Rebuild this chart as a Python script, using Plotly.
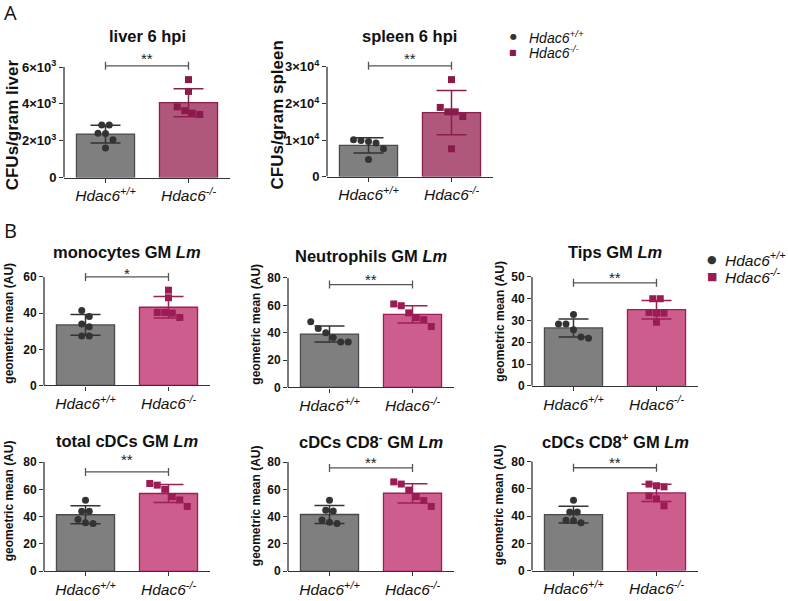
import numpy as np
import plotly.graph_objects as go

# group labels
groups = ["<i>Hdac6<sup>+/+</sup></i>", "<i>Hdac6<sup>-/-</sup></i>"]

# panel A: CFUs per gram
liver_wt = [2860, 2850, 2410, 2400, 2050, 1610]
liver_ko = [5320, 4680, 3840, 3630, 3430, 3500]
spleen_wt = [10100, 9900, 9600, 9200, 7600, 4700]
spleen_ko = [26500, 18900, 17700, 17700, 16400, 7600]

# panel B: geometric mean (AU)
mono_wt = [41.5, 38.2, 34.0, 32.5, 27.3, 27.3]
mono_ko = [52.7, 48.5, 40.4, 40.0, 40.4, 37.6]
neut_wt = [48.0, 43.0, 40.0, 36.5, 33.3, 33.3]
neut_ko = [61.0, 59.7, 54.5, 51.0, 49.5, 44.5]
tips_wt = [32.8, 28.4, 28.4, 25.7, 21.9, 22.4]
tips_ko = [40.0, 40.0, 33.4, 33.4, 33.7, 29.2]
cdc_wt = [52.0, 44.0, 44.0, 38.0, 35.5, 35.0]
cdc_ko = [64.3, 63.1, 60.0, 54.7, 52.3, 47.5]
cd8neg_wt = [52.0, 44.8, 44.2, 37.5, 36.0, 35.0]
cd8neg_ko = [63.9, 65.5, 59.5, 54.7, 51.8, 47.5]
cd8pos_wt = [51.5, 43.0, 43.0, 37.0, 35.0, 36.5]
cd8pos_ko = [63.4, 62.2, 61.4, 54.7, 52.5, 47.5]

# y ticks
liver_ticks = [0, 2000, 4000, 6000]
liver_ticktext = ["0", "2×10<sup>3</sup>", "4×10<sup>3</sup>", "6×10<sup>3</sup>"]
spleen_ticks = [0, 10000, 20000, 30000]
spleen_ticktext = ["0", "1×10<sup>4</sup>", "2×10<sup>4</sup>", "3×10<sup>4</sup>"]
ticks_60 = [0, 20, 40, 60]
ticks_80 = [0, 20, 40, 60, 80]
ticks_50 = [0, 10, 20, 30, 40, 50]

W, H = 788, 601
PW = 166
FONT = "Liberation Sans, Arial, sans-serif"

col_a = dict(wt_fill="#7f7f7f", wt_line="#4a4a4a", wt_pt="#333333",
             ko_fill="#b0587c", ko_line="#8a1f4e", ko_pt="#8b1a4c")
col_b = dict(wt_fill="#7f7f7f", wt_line="#4a4a4a", wt_pt="#333333",
             ko_fill="#cc5d8d", ko_line="#9c1f55", ko_pt="#9b1b55")

# layout of each panel (pixels)
panels = [
    dict(wt=liver_wt, ko=liver_ko, ticks=liver_ticks, ticktext=liver_ticktext,
         x0=64, zero=180, toppx=68, brk=6070, star=6700, sig="**",
         title="liver 6 hpi", ty=36, yt="CFUs/gram liver", ytx=12, yty=127,
         ytsize=17, tsize=13, col=col_a),
    dict(wt=spleen_wt, ko=spleen_ko, ticks=spleen_ticks, ticktext=spleen_ticktext,
         x0=327, zero=179, toppx=67.7, brk=30270, star=33400, sig="**",
         title="spleen 6 hpi", ty=36, yt="CFUs/gram spleen", ytx=277, yty=117,
         ytsize=17, tsize=13, col=col_a),
    dict(wt=mono_wt, ko=mono_ko, ticks=ticks_60, x0=44, zero=390.7, toppx=280.7,
         brk=60, star=64.2, sig="*", title="monocytes GM <i>Lm</i>", ty=255,
         yt="geometric mean (AU)", ytx=9, yty=328, ytsize=12, tsize=12, col=col_b),
    dict(wt=neut_wt, ko=neut_ko, ticks=ticks_80, x0=288, zero=392.7, toppx=281.7,
         brk=75.2, star=82, sig="**", title="Neutrophils GM <i>Lm</i>", ty=259,
         yt="geometric mean (AU)", ytx=256, yty=328, ytsize=12, tsize=12, col=col_b),
    dict(wt=tips_wt, ko=tips_ko, ticks=ticks_50, x0=532, zero=391, toppx=280.7,
         brk=47.3, star=51.7, sig="**", title="Tips GM <i>Lm</i>", ty=255,
         yt="geometric mean (AU)", ytx=500, yty=326, ytsize=12, tsize=12, col=col_b),
    dict(wt=cdc_wt, ko=cdc_ko, ticks=ticks_80, x0=44, zero=579, toppx=468.3,
         brk=72.8, star=84.5, sig="**", title="total cDCs GM <i>Lm</i>", ty=447,
         yt="geometric mean (AU)", ytx=9, yty=508, ytsize=12, tsize=12, col=col_b),
    dict(wt=cd8neg_wt, ko=cd8neg_ko, ticks=ticks_80, x0=288, zero=579, toppx=468.3,
         brk=75.7, star=82.4, sig="**", title="cDCs CD8<sup>-</sup> GM <i>Lm</i>", ty=447,
         yt="geometric mean (AU)", ytx=256, yty=512, ytsize=12, tsize=12, col=col_b),
    dict(wt=cd8pos_wt, ko=cd8pos_ko, ticks=ticks_80, x0=532, zero=578.3, toppx=467.7,
         brk=75.4, star=81.9, sig="**", title="cDCs CD8<sup>+</sup> GM <i>Lm</i>", ty=447,
         yt="geometric mean (AU)", ytx=499, yty=512, ytsize=12, tsize=12, col=col_b),
]

# key blocks: (marker x, first row y, row step, glyph size, text gap, text size, colours)
legends = [(513, 37, 16, 8, 14, 14, col_a), (712, 263, 17, 11, 11, 15.5, col_b)]


def swarm(vals, scale, diam=7.5):
    # spread points that would overlap, side by side like a scatter dot plot
    vals = np.asarray(vals, dtype=float)
    order = np.argsort(-vals)
    rows, cur = [], [order[0]]
    for a, b in zip(order[:-1], order[1:]):
        if (vals[a] - vals[b]) * scale < diam:
            cur.append(b)
        else:
            rows.append(cur)
            cur = [b]
    rows.append(cur)
    offs = np.zeros(len(vals))
    for r in rows:
        n = len(r)
        for i, idx in enumerate(r):
            offs[idx] = (i - (n - 1) / 2) * diam
    return offs


fig = go.Figure()
shapes, annotations = [], []
layout = {}

for i, p in enumerate(panels):
    n = "" if i == 0 else str(i + 1)
    xa, ya = "x" + n, "y" + n
    top_tick = p["ticks"][-1]
    scale = (p["zero"] - p["toppx"]) / top_tick
    rtop = max(top_tick, p["star"]) * 1.06
    top_px = p["zero"] - rtop * scale
    cat_px = PW / 2.0
    c = p["col"]

    means = [np.mean(p["wt"]), np.mean(p["ko"])]
    sds = [np.std(p["wt"], ddof=1), np.std(p["ko"], ddof=1)]

    fig.add_trace(go.Bar(
        x=[0, 1], y=means, width=0.7,
        marker=dict(color=[c["wt_fill"], c["ko_fill"]],
                    line=dict(color=[c["wt_line"], c["ko_line"]], width=1.3)),
        showlegend=False, xaxis=xa, yaxis=ya, hoverinfo="skip"))

    for k, (vals, sym, pc) in enumerate([(p["wt"], "circle", c["wt_pt"]),
                                         (p["ko"], "square", c["ko_pt"])]):
        offs = swarm(vals, scale) / cat_px
        fig.add_trace(go.Scatter(
            x=k + offs, y=vals, mode="markers", cliponaxis=False,
            marker=dict(symbol=sym, size=7, color=pc, line=dict(width=0)),
            showlegend=False, xaxis=xa, yaxis=ya))

    for k, ec in enumerate([c["wt_pt"], c["ko_line"]]):
        fig.add_trace(go.Scatter(
            x=[k], y=[means[k]], mode="markers",
            marker=dict(size=1, color="rgba(0,0,0,0)"),
            error_y=dict(type="data", array=[sds[k]], color=ec, thickness=1.5, width=15),
            showlegend=False, xaxis=xa, yaxis=ya))

    ticktext = p.get("ticktext", [str(t) for t in p["ticks"]])
    layout["xaxis" + n] = dict(
        domain=[p["x0"] / W, (p["x0"] + PW) / W], anchor=ya, range=[-0.5, 1.5],
        tickvals=[0, 1], ticktext=groups, showline=True, linecolor="#333",
        linewidth=1.3, ticks="outside", ticklen=4, tickwidth=1.3, tickcolor="#333",
        showgrid=False, zeroline=False, tickfont=dict(family=FONT, size=15.5, color="#111"))
    layout["yaxis" + n] = dict(
        domain=[1 - p["zero"] / H, 1 - top_px / H], anchor=xa, range=[0, rtop],
        tickvals=p["ticks"], ticktext=["<b>%s</b>" % t for t in ticktext],
        showline=False, ticks="outside", ticklen=4, tickwidth=1.3, tickcolor="#333",
        showgrid=False, zeroline=False,
        tickfont=dict(family=FONT, size=p["tsize"], color="#111"))

    # y axis line up to the top tick only
    shapes.append(dict(type="line", xref=xa + " domain", x0=0, x1=0, yref=ya,
                       y0=0, y1=top_tick, line=dict(color="#333", width=1.3)))
    # significance bracket
    shapes.append(dict(type="line", xref=xa, x0=0, x1=1, yref=ya, y0=p["brk"],
                       y1=p["brk"], line=dict(color="#555", width=1.3)))
    for xe in (0, 1):
        shapes.append(dict(type="line", xref=xa, x0=xe, x1=xe, yref=ya,
                           ysizemode="pixel", yanchor=p["brk"], y0=-4, y1=4,
                           line=dict(color="#555", width=1.3)))
    annotations.append(dict(xref=xa, yref=ya, x=0.5, y=p["star"], text=p["sig"],
                            showarrow=False, yshift=-4, xanchor="center", yanchor="middle",
                            font=dict(family=FONT, size=15, color="#222")))
    annotations.append(dict(xref="paper", yref="paper", x=(p["x0"] + PW / 2) / W,
                            y=1 - p["ty"] / H, text="<b>%s</b>" % p["title"],
                            showarrow=False, xanchor="center", yanchor="middle",
                            font=dict(family=FONT, size=16.5, color="#111")))
    annotations.append(dict(xref="paper", yref="paper", x=p["ytx"] / W,
                            y=1 - p["yty"] / H, text="<b>%s</b>" % p["yt"],
                            textangle=-90, showarrow=False,
                            xanchor="center", yanchor="middle",
                            font=dict(family=FONT, size=p["ytsize"], color="#111")))

# panel letters
for letter, ly in [("A", 13), ("B", 234)]:
    annotations.append(dict(xref="paper", yref="paper", x=10 / W, y=1 - ly / H,
                            text=letter, showarrow=False, xanchor="center",
                            yanchor="middle",
                            font=dict(family="Open Sans, sans-serif", size=20, color="#111")))

# key for genotypes (one per panel block)
for mx, my, step, gs, gap, ts, cols in legends:
    for r, (glyph, gc) in enumerate([("●", cols["wt_pt"]), ("■", cols["ko_pt"])]):
        y = 1 - (my + r * step) / H
        annotations.append(dict(xref="paper", yref="paper", x=mx / W, y=y, text=glyph,
                                showarrow=False, xanchor="center", yanchor="middle",
                                font=dict(family="DejaVu Sans", size=gs, color=gc)))
        annotations.append(dict(xref="paper", yref="paper", x=(mx + gap) / W, y=y,
                                text=groups[r], showarrow=False, xanchor="left",
                                yanchor="middle",
                                font=dict(family=FONT, size=ts, color="#111")))

fig.update_layout(
    width=W, height=H, margin=dict(l=0, r=0, t=0, b=0),
    paper_bgcolor="white", plot_bgcolor="white", showlegend=False,
    shapes=shapes, annotations=annotations,
    **layout,
)

fig.write_html("out.html", config={"displayModeBar": False},
               post_script="document.body.style.margin='0';")
